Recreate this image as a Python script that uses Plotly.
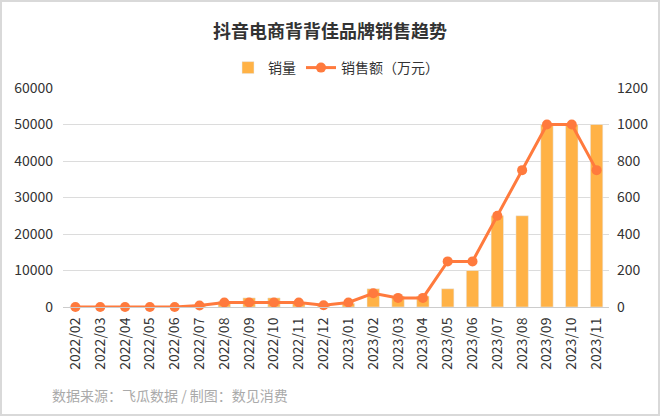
import plotly.graph_objects as go

months = ["2022/02", "2022/03", "2022/04", "2022/05", "2022/06", "2022/07",
          "2022/08", "2022/09", "2022/10", "2022/11", "2022/12", "2023/01",
          "2023/02", "2023/03", "2023/04", "2023/05", "2023/06", "2023/07",
          "2023/08", "2023/09", "2023/10", "2023/11"]
volume = [0, 0, 0, 0, 0, 300, 1500, 2500, 2500, 1000, 500, 1000,
          5000, 3000, 3000, 5000, 10000, 25000, 25000, 50000, 50000, 50000]
sales = [0, 0, 0, 0, 0, 8, 25, 25, 25, 25, 10, 25,
         75, 50, 50, 250, 250, 500, 750, 1000, 1000, 750]

W, H = 660, 416
ML, MR, MT, MB = 63, 51, 88, 109
PW, PH = W - ML - MR, H - MT - MB

FONT = "Noto Sans CJK SC, Noto Sans, sans-serif"

fig = go.Figure()
fig.add_trace(go.Bar(x=months, y=volume, name="销量", marker_color="#FFB246",
                     yaxis="y"))
fig.add_trace(go.Scatter(x=months, y=sales, name="销售额（万元）", mode="lines+markers",
                         line=dict(color="#FF7A3D", width=3),
                         marker=dict(color="#FF7A3D", size=10), yaxis="y2",
                         cliponaxis=False))

fig.update_layout(
    width=W, height=H,
    margin=dict(l=ML, r=MR, t=MT, b=MB, autoexpand=False),
    paper_bgcolor="white", plot_bgcolor="white",
    font=dict(family=FONT, size=14, color="#333"),
    title=dict(text="<b>抖音电商背背佳品牌销售趋势</b>", x=0.5, xanchor="center",
               y=1 - 32 / H, yanchor="middle", font=dict(size=18, color="#333")),
    legend=dict(orientation="h", x=0.5, xanchor="center", y=1 + (MT - 68) / PH,
                yanchor="middle", font=dict(size=14, color="#333"),
                itemwidth=30, tracegroupgap=0),
    bargap=0.5,
    showlegend=True,
    xaxis=dict(type="category", range=[-0.5, len(months) - 0.5], autorange=False,
               tickangle=-90, showgrid=False, automargin=False,
               showline=True, linecolor="#ccc", linewidth=1,
               tickfont=dict(size=14, color="#333"), ticks="", ticklabelstandoff=4),
    yaxis=dict(range=[0, 60000], dtick=10000, tickformat="d", gridcolor="#dcdcdc",
               gridwidth=1, automargin=False,
               zeroline=False, tickfont=dict(size=14, color="#333"),
               ticklabelstandoff=9, showline=False),
    yaxis2=dict(range=[0, 1200], dtick=200, tickformat="d", overlaying="y", side="right",
                showgrid=False, zeroline=False, automargin=False,
                tickfont=dict(size=14, color="#333"), ticklabelstandoff=7),
    annotations=[dict(text="数据来源：飞瓜数据 / 制图：数见消费", xref="paper", yref="paper",
                      x=(50 - ML) / PW, y=-(395 - MT - PH) / PH, xanchor="left",
                      yanchor="middle", showarrow=False,
                      font=dict(size=14, color="#aaa"))],
    shapes=[dict(type="rect", xref="paper", yref="paper",
                 x0=-(ML - 1) / PW, x1=1 + (MR - 1) / PW,
                 y0=-(MB - 1) / PH, y1=1 + (MT - 1) / PH,
                 line=dict(color="#d9d9d9", width=2), layer="below")],
)

fig.write_html("out.html", config={"displayModeBar": False},
               post_script="document.body.style.margin='0';document.body.style.overflow='hidden';")
